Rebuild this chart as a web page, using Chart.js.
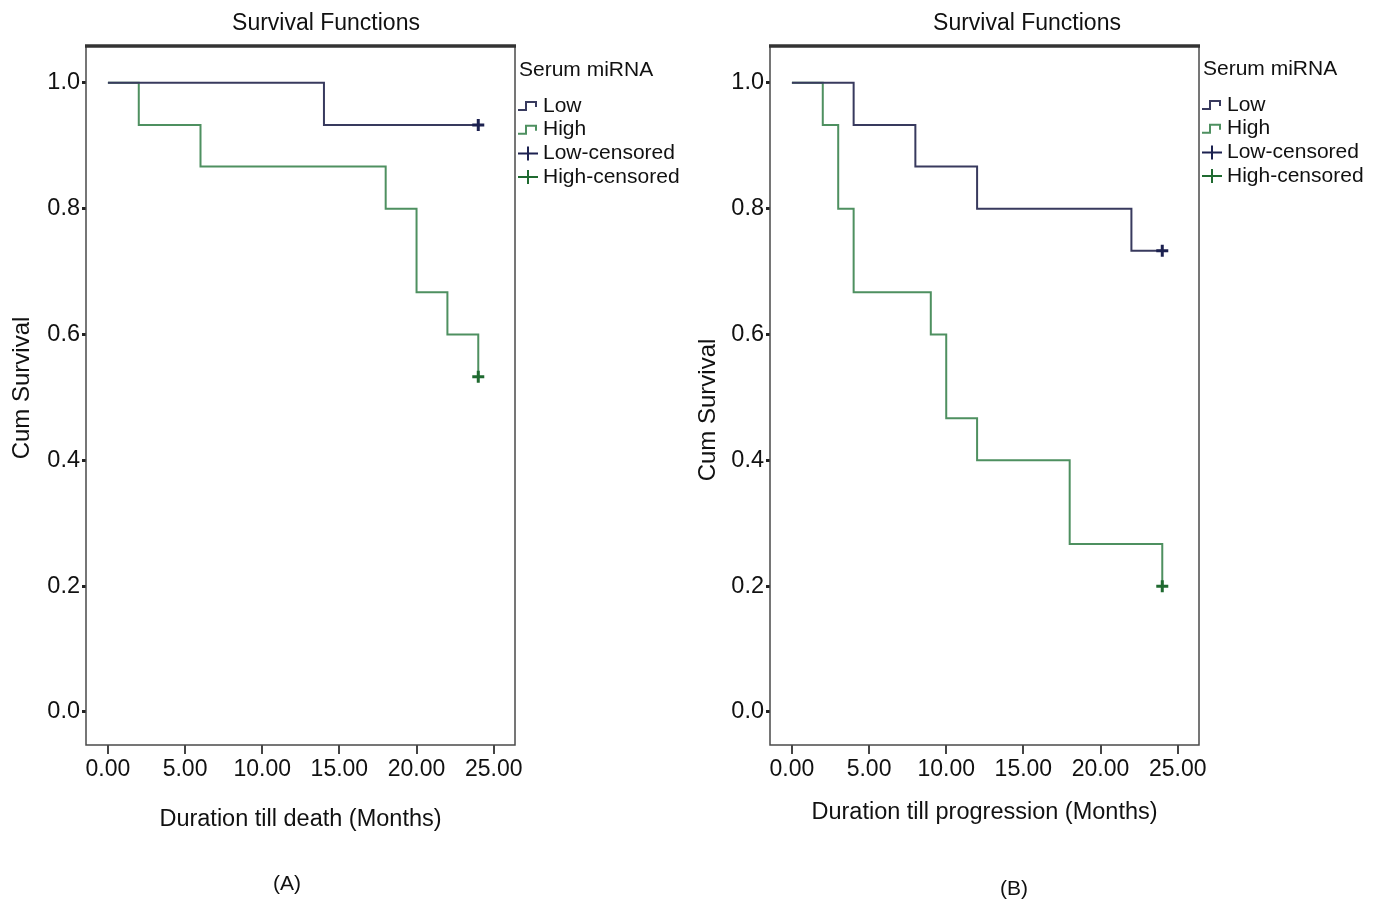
<!DOCTYPE html>
<html>
<head>
<meta charset="utf-8">
<script src="https://cdn.jsdelivr.net/npm/chart.js@4.4.1/dist/chart.umd.min.js"></script>
<style>
  body { margin: 0; background: #fff; }
  #wrap { position: relative; width: 1373px; height: 902px; }
  canvas { position: absolute; top: 0; }
  #chartA { left: 0; }
  #chartB { left: 686px; }
</style>
</head>
<body>
<div id="wrap">
  <canvas id="chartA" width="686" height="902"></canvas>
  <canvas id="chartB" width="687" height="902"></canvas>
</div>
<script>
// (A) duration till death
const timesLowA = [0, 14, 24];
const survLowA = [1.0, 0.933, 0.933];
const timesHighA = [0, 2, 6, 18, 20, 22, 24];
const survHighA = [1.0, 0.933, 0.867, 0.8, 0.667, 0.6, 0.533];
const censorTimesLowA = [24];
const censorSurvLowA = [0.933];
const censorTimesHighA = [24];
const censorSurvHighA = [0.533];

// (B) duration till progression
const timesLowB = [0, 4, 8, 12, 22, 24];
const survLowB = [1.0, 0.933, 0.867, 0.8, 0.733, 0.733];
const timesHighB = [0, 2, 3, 4, 9, 10, 12, 18, 24];
const survHighB = [1.0, 0.933, 0.8, 0.667, 0.6, 0.467, 0.4, 0.267, 0.2];
const censorTimesLowB = [24];
const censorSurvLowB = [0.733];
const censorTimesHighB = [24];
const censorSurvHighB = [0.2];

const groupLabels = ['Low', 'High', 'Low-censored', 'High-censored'];
const xTicks = [0, 5, 10, 15, 20, 25];
const yTicks = [0, 0.2, 0.4, 0.6, 0.8, 1.0];

const FONT = '"Liberation Sans", Arial, sans-serif';
const lowColor = '#383a5e';
const highColor = '#4e9060';
const lowCensColor = '#1c2150';
const highCensColor = '#1f6a30';

function pts(xs, ys) {
    return xs.map(function (x, i) { return { x: x, y: ys[i] }; });
}

// frame, titles, legend and caption
const decor = {
    id: 'decor',
    afterDraw(chart, args, o) {
        const ctx = chart.ctx;
        const a = chart.chartArea;
        ctx.save();
        // plot frame
        ctx.strokeStyle = '#4a4a4a';
        ctx.lineWidth = 1.5;
        ctx.strokeRect(a.left, a.top, a.right - a.left, a.bottom - a.top);
        ctx.strokeStyle = '#333';
        ctx.lineWidth = 3.5;
        ctx.beginPath();
        ctx.moveTo(a.left - 1, a.top);
        ctx.lineTo(a.right + 1, a.top);
        ctx.stroke();

        ctx.fillStyle = '#111';
        ctx.textBaseline = 'middle';
        ctx.textAlign = 'center';
        ctx.font = '23px ' + FONT;
        ctx.fillText('Survival Functions', o.titleX, 24);
        ctx.font = '21px ' + FONT;
        ctx.fillText(o.caption, o.captionX, o.captionY);

        // y axis title
        ctx.save();
        ctx.translate(22, o.yTitleY);
        ctx.rotate(-Math.PI / 2);
        ctx.font = '24px ' + FONT;
        ctx.fillText('Cum Survival', 0, 0);
        ctx.restore();

        // legend
        const lx = a.right + 3;
        ctx.textAlign = 'left';
        ctx.font = '21px ' + FONT;
        ctx.fillText('Serum miRNA', lx + 1, o.legendY);
        const colors = [lowColor, highColor, lowCensColor, highCensColor];
        groupLabels.forEach(function (lab, i) {
            const y = o.legendY + 36 + i * 23.7;
            ctx.strokeStyle = colors[i];
            ctx.lineWidth = 2;
            ctx.beginPath();
            if (i < 2) {
                ctx.moveTo(lx, y + 4);
                ctx.lineTo(lx + 8, y + 4);
                ctx.lineTo(lx + 8, y - 4);
                ctx.lineTo(lx + 18, y - 4);
                ctx.lineTo(lx + 18, y + 1);
            } else {
                ctx.moveTo(lx, y);
                ctx.lineTo(lx + 20, y);
                ctx.moveTo(lx + 10, y - 7);
                ctx.lineTo(lx + 10, y + 7);
            }
            ctx.stroke();
            ctx.fillStyle = '#111';
            ctx.fillText(lab, lx + 25, y);
        });
        ctx.restore();
    }
};

function makeChart(id, d) {
    return new Chart(document.getElementById(id), {
        type: 'line',
        data: {
            datasets: [
                {
                    label: groupLabels[0],
                    data: pts(d.lowT, d.lowS),
                    borderColor: lowColor,
                    borderWidth: 2,
                    stepped: true,
                    pointRadius: 0,
                    order: 2
                },
                {
                    label: groupLabels[1],
                    data: pts(d.highT, d.highS),
                    borderColor: highColor,
                    borderWidth: 2,
                    stepped: true,
                    pointRadius: 0,
                    order: 3
                },
                {
                    label: groupLabels[2],
                    data: pts(d.cLowT, d.cLowS),
                    showLine: false,
                    pointStyle: 'cross',
                    pointRadius: 6,
                    pointBorderWidth: 3,
                    borderColor: lowCensColor,
                    order: 0
                },
                {
                    label: groupLabels[3],
                    data: pts(d.cHighT, d.cHighS),
                    showLine: false,
                    pointStyle: 'cross',
                    pointRadius: 6,
                    pointBorderWidth: 3,
                    borderColor: highCensColor,
                    order: 1
                }
            ]
        },
        options: {
            responsive: false,
            animation: false,
            events: [],
            layout: {
                padding: { left: 0, right: d.padRight, top: 46, bottom: 57 }
            },
            plugins: {
                legend: { display: false },
                tooltip: { enabled: false },
                decor: d.decor
            },
            scales: {
                x: {
                    type: 'linear',
                    min: -1.42,
                    max: 26.38,
                    afterBuildTicks: function (s) { s.ticks = xTicks.map(function (v) { return { value: v }; }); },
                    afterFit: function (s) { s.height = 100; },
                    border: { display: false },
                    grid: { drawOnChartArea: false, tickLength: 9, lineWidth: 2, color: '#444' },
                    ticks: {
                        font: { family: FONT, size: 23 },
                        color: '#111',
                        padding: 2,
                        maxRotation: 0,
                        callback: function (v) { return v.toFixed(2); }
                    },
                    title: {
                        display: true,
                        text: d.xTitle,
                        font: { family: FONT, size: 23.5 },
                        color: '#111',
                        padding: { top: 0, bottom: d.xTitlePad }
                    }
                },
                y: {
                    min: -0.0525,
                    max: 1.0585,
                    afterBuildTicks: function (s) { s.ticks = yTicks.map(function (v) { return { value: v }; }); },
                    afterFit: function (s) { s.width = d.yWidth; },
                    border: { display: false },
                    grid: { drawOnChartArea: false, tickLength: 4, lineWidth: 3, color: '#222' },
                    ticks: {
                        font: { family: FONT, size: 23.5 },
                        color: '#111',
                        padding: 2,
                        callback: function (v) { return v.toFixed(1); }
                    }
                }
            }
        },
        plugins: [decor]
    });
}

makeChart('chartA', {
    lowT: timesLowA, lowS: survLowA, highT: timesHighA, highS: survHighA,
    cLowT: censorTimesLowA, cLowS: censorSurvLowA, cHighT: censorTimesHighA, cHighS: censorSurvHighA,
    padRight: 171, yWidth: 86,
    xTitle: 'Duration till death (Months)', xTitlePad: 11,
    decor: { titleX: 326, caption: '(A)', captionX: 287, captionY: 884, legendY: 70, yTitleY: 388 }
});

makeChart('chartB', {
    lowT: timesLowB, lowS: survLowB, highT: timesHighB, highS: survHighB,
    cLowT: censorTimesLowB, cLowS: censorSurvLowB, cHighT: censorTimesHighB, cHighS: censorSurvHighB,
    padRight: 174, yWidth: 84,
    xTitle: 'Duration till progression (Months)', xTitlePad: 18,
    decor: { titleX: 341, caption: '(B)', captionX: 328, captionY: 889, legendY: 69, yTitleY: 410 }
});
</script>
</body>
</html>
